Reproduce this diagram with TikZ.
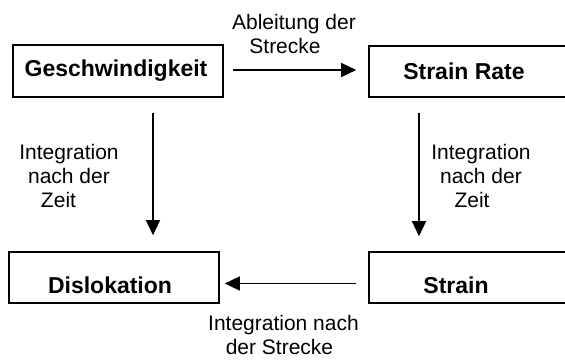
\documentclass[tikz,border=0pt]{standalone}
\usepackage{fontspec}
\setmainfont{Liberation Sans}
\usetikzlibrary{arrows.meta}
\begin{document}
\begin{tikzpicture}[x=1pt,y=-1pt,
  box/.style={draw,line width=1.6pt,rectangle,inner sep=0pt,font=\fontsize{23}{27}\bfseries\selectfont},
  lowbox/.style={box,text height=31pt,text depth=0pt},
  lbl/.style={inner sep=0pt,anchor=base,align=center,font=\fontsize{21}{24}\selectfont},
  arr/.style={line width=1.4pt,-{Triangle[length=15pt,width=14pt]}}]
\useasboundingbox (0,0) rectangle (565,360);
\begin{scope}
\clip (0,0) rectangle (565,360);
\node[box,minimum width=210pt,minimum height=52pt] (g) at (118,71) {Geschwindigkeit\hspace*{4pt}};
\node[box,minimum width=211pt,minimum height=51pt] (sr) at (474.5,71.5) {Strain Rate\hspace*{21pt}};
\node[lowbox,minimum width=210pt,minimum height=51pt] (d) at (114,277.5) {Dislokation\hspace*{8pt}};
\node[lowbox,minimum width=211pt,minimum height=51pt] (s) at (474.5,277.5) {Strain\hspace*{37pt}};
\end{scope}
\draw[arr] ([xshift=9pt,yshift=1pt]g.east) -- ([xshift=-12pt,yshift=1.5pt]sr.west);
\draw[arr] ([xshift=35pt,yshift=-15pt]g.south) -- ([xshift=39pt,yshift=16pt]d.north);
\draw[arr] ([xshift=-55.5pt,yshift=-15pt]sr.south) -- ([xshift=-55.5pt,yshift=15pt]s.north);
\draw[arr] ([xshift=-12pt,yshift=-6pt]s.west) -- ([xshift=5pt,yshift=-6pt]d.east);
\node[lbl] (t1) at (294,53) {Ableitung der\\Strecke\hspace*{18pt}};
\node[lbl] (t2) at (69,207) {Integration\\nach der\hspace*{6pt}\\Zeit\hspace*{21pt}};
\node[lbl] (t3) at (481,207) {Integration\\nach der\hspace*{4pt}\\Zeit\hspace*{18pt}};
\node[lbl] (t4) at (283.5,354) {Integration nach\\der Strecke\hspace*{8pt}};
\end{tikzpicture}
\end{document}
